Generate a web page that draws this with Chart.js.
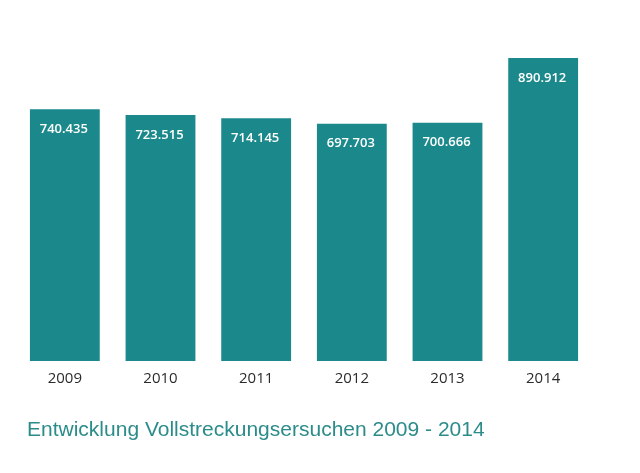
<!DOCTYPE html>
<html>
<head>
<meta charset="utf-8">
<title>Vollstreckungsersuchen</title>
<script src="https://cdn.jsdelivr.net/npm/chart.js@4"></script>
<style>
    html, body { margin: 0; padding: 0; background: #fff; }
    #wrap { position: relative; width: 640px; height: 473px; }
    #chartTitle {
        position: absolute; left: 27px; top: 417px;
        font-family: "Liberation Sans", Arial, sans-serif;
        font-size: 21px; color: #2b8c8a; white-space: nowrap;
    }
</style>
</head>
<body>
<div id="wrap">
    <canvas id="chart" width="640" height="473"></canvas>
    <div id="chartTitle">Entwicklung Vollstreckungsersuchen 2009 - 2014</div>
</div>
<script>
    // Daten
    const years = ['2009', '2010', '2011', '2012', '2013', '2014'];
    const requests = [740435, 723515, 714145, 697703, 700666, 890912];
    const valueLabels = ['740.435', '723.515', '714.145', '697.703', '700.666', '890.912'];

    // Werte weiss in die Balken schreiben
    const barLabels = {
        id: 'barLabels',
        afterDatasetsDraw(chart) {
            const ctx = chart.ctx;
            const meta = chart.getDatasetMeta(0);
            ctx.save();
            ctx.fillStyle = '#ffffff';
            ctx.font = '600 13px "Open Sans", sans-serif';
            ctx.textAlign = 'center';
            ctx.textBaseline = 'middle';
            meta.data.forEach((bar, i) => {
                ctx.fillText(valueLabels[i], bar.x - 1, bar.y + 20);
            });
            ctx.restore();
        }
    };

    new Chart(document.getElementById('chart'), {
        type: 'bar',
        data: {
            labels: years,
            datasets: [{
                data: requests,
                backgroundColor: '#1b898b',
                barPercentage: 0.73,
                categoryPercentage: 1
            }]
        },
        options: {
            responsive: false,
            animation: false,
            layout: { padding: { left: 17, right: 49, top: 21, bottom: 76 } },
            plugins: {
                legend: { display: false },
                tooltip: { enabled: false }
            },
            scales: {
                x: {
                    grid: { display: false, drawTicks: false },
                    border: { display: false },
                    ticks: {
                        color: '#2b2b2b',
                        padding: 9,
                        font: { family: '"Open Sans", sans-serif', size: 15 }
                    }
                },
                y: {
                    display: false,
                    min: 0,
                    max: 1000000
                }
            }
        },
        plugins: [barLabels]
    });
</script>
</body>
</html>
